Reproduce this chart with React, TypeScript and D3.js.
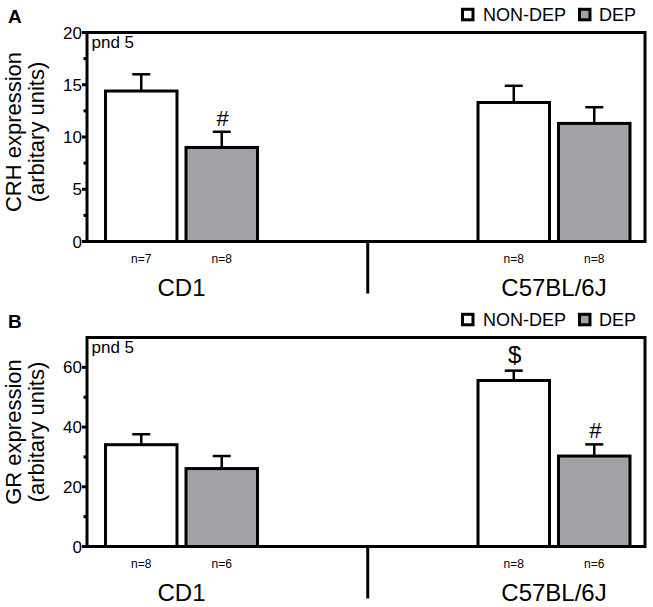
import React from "react";
import * as d3 from "d3";

const strains = ["CD1", "C57BL/6J"];
const groups = ["NON-DEP", "DEP"];

const crhMean = [14.4, 9.0, 13.3, 11.3];
const crhSem = [1.6, 1.5, 1.6, 1.55];
const crhN = ["n=7", "n=8", "n=8", "n=8"];
const crhMark = ["", "#", "", ""];
const crhTicks = [0, 5, 10, 15, 20];
const crhMinor = [2.5, 7.5, 12.5, 17.5];

const grMean = [34.1, 26.1, 55.6, 30.3];
const grSem = [3.5, 4.2, 3.3, 3.9];
const grN = ["n=8", "n=6", "n=8", "n=6"];
const grMark = ["", "", "$", "#"];
const grTicks = [0, 20, 40, 60];
const grMinor = [10, 30, 50];

const FONT = "'Liberation Sans', Arial, Helvetica, sans-serif";
const GRAY = "#a2a2a6";
const W = 653;
const H = 607;

type PanelProps = {
  letter: string;
  top: number;
  bottom: number;
  yMax: number;
  ticks: number[];
  minor: number[];
  mean: number[];
  sem: number[];
  ns: string[];
  marks: string[];
  label: string;
  labelCenter: number;
};

function Panel(p: PanelProps) {
  const left = 87;
  const right = 645;
  const y = d3.scaleLinear().domain([0, p.yMax]).range([p.bottom, p.top]);
  const xOuter = d3.scaleBand<string>().domain(strains).range([105.5, 630]).paddingInner(0.592).paddingOuter(0);
  const xInner = d3.scaleBand<string>().domain(groups).range([0, xOuter.bandwidth()]).paddingInner(0.112).paddingOuter(0);
  const bars = strains.flatMap((s, si) =>
    groups.map((g, gi) => {
      const i = si * 2 + gi;
      return { s, g, i, x: (xOuter(s) as number) + (xInner(g) as number), w: xInner.bandwidth() };
    })
  );
  const divX = ((xOuter(strains[0]) as number) + xOuter.bandwidth() + (xOuter(strains[1]) as number)) / 2;
  const legTop = p.top - 24;
  return (
    <g>
      <text x={8} y={p.top - 10} fontFamily={FONT} fontWeight="bold" fontSize={19}>{p.letter}</text>
      {/* legend */}
      <rect x={462.5} y={legTop + 0.8} width={10.5} height={10.5} fill="white" stroke="black" strokeWidth={3} />
      <text x={483} y={legTop + 12} fontFamily={FONT} fontSize={18}>{groups[0]}</text>
      <rect x={579.5} y={legTop + 0.8} width={10.5} height={10.5} fill={GRAY} stroke="black" strokeWidth={3} />
      <text x={599} y={legTop + 12} fontFamily={FONT} fontSize={18}>{groups[1]}</text>
      {/* bars */}
      {bars.map((b) => {
        const yt = y(p.mean[b.i]);
        const ye = y(p.mean[b.i] + p.sem[b.i]);
        const cx = b.x + b.w / 2;
        return (
          <g key={b.i}>
            <line x1={cx} x2={cx} y1={yt} y2={ye} stroke="black" strokeWidth={2.5} />
            <line x1={cx - 9} x2={cx + 9} y1={ye} y2={ye} stroke="black" strokeWidth={2.5} />
            <rect x={b.x} y={yt} width={b.w} height={p.bottom - yt} fill={b.g === "DEP" ? GRAY : "white"} stroke="black" strokeWidth={3} />
            {p.marks[b.i] ? (
              <text x={cx + 1} y={ye - (p.marks[b.i] === "$" ? 8 : 6)} textAnchor="middle" fontFamily={FONT} fontSize={p.marks[b.i] === "$" ? 24 : 22}>{p.marks[b.i]}</text>
            ) : null}
            <text x={cx} y={p.bottom + 21} textAnchor="middle" fontFamily={FONT} fontSize={12}>{p.ns[b.i]}</text>
          </g>
        );
      })}
      {/* frame */}
      <path d={`M${left},${p.bottom}V${p.top}H${right}V${p.bottom}H${left - 2}`} fill="none" stroke="black" strokeWidth={3} />
      <line x1={divX} x2={divX} y1={p.bottom} y2={p.bottom + 52} stroke="black" strokeWidth={3} />
      {/* y ticks */}
      {p.ticks.map((t) => (
        <g key={t}>
          <line x1={left - 5} x2={left} y1={y(t)} y2={y(t)} stroke="black" strokeWidth={3} />
          <text x={left - 5} y={y(t) + 6} textAnchor="end" fontFamily={FONT} fontSize={17}>{t}</text>
        </g>
      ))}
      {p.minor.map((t) => (
        <line key={t} x1={left - 3.5} x2={left} y1={y(t)} y2={y(t)} stroke="black" strokeWidth={3} />
      ))}
      <text x={91.5} y={p.top + 15} fontFamily={FONT} fontSize={17}>pnd 5</text>
      {/* strain labels */}
      {strains.map((s) => (
        <text key={s} x={(xOuter(s) as number) + xOuter.bandwidth() / 2} y={p.bottom + 54} textAnchor="middle" fontFamily={FONT} fontSize={24}>{s}</text>
      ))}
      {/* y label */}
      <text transform={`translate(21,${p.labelCenter}) rotate(-90)`} textAnchor="middle" fontFamily={FONT} fontSize={22}>{p.label}</text>
      <text transform={`translate(44,${p.labelCenter}) rotate(-90)`} textAnchor="middle" fontFamily={FONT} fontSize={22}>(arbitary units)</text>
    </g>
  );
}

export default function App() {
  return (
    <svg width={W} height={H} style={{ position: "absolute", left: 0, top: 0, background: "white" }}>
      <rect width={W} height={H} fill="white" />
      <Panel letter="A" top={32.5} bottom={241.5} yMax={20} ticks={crhTicks} minor={crhMinor} mean={crhMean} sem={crhSem} ns={crhN} marks={crhMark} label="CRH expression" labelCenter={132} />
      <Panel letter="B" top={337.5} bottom={546.5} yMax={70} ticks={grTicks} minor={grMinor} mean={grMean} sem={grSem} ns={grN} marks={grMark} label="GR expression" labelCenter={432} />
    </svg>
  );
}
